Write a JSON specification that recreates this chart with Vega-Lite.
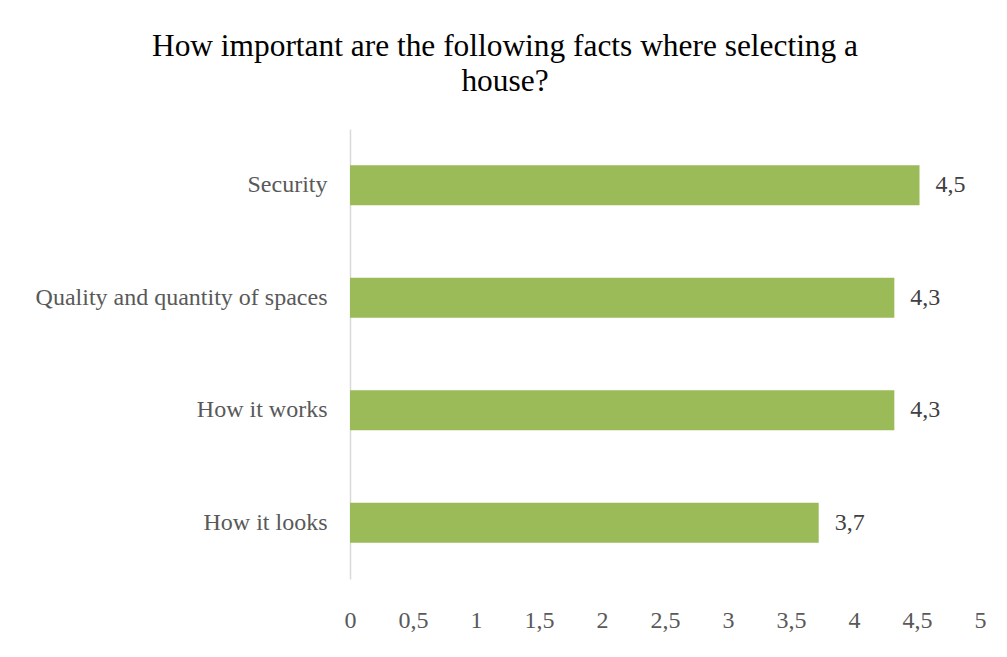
{
  "$schema": "https://vega.github.io/schema/vega-lite/v6.json",
  "width": 630,
  "height": 450,
  "autosize": {"type": "none"},
  "padding": {"left": 350, "top": 129, "right": 27, "bottom": 78},
  "background": "white",
  "config": {
    "view": {"stroke": null},
    "locale": {"number": {"decimal": ",", "thousands": ".", "grouping": [3], "currency": ["", " €"]}},
    "font": "Liberation Serif",
    "title": {"font": "Liberation Serif"}
  },
  "title": {
    "text": ["How important are the following facts where selecting a", "house?"],
    "font": "Liberation Serif",
    "fontSize": 31.4,
    "fontWeight": "normal",
    "color": "#000000",
    "lineHeight": 35,
    "anchor": "middle",
    "dx": -160,
    "offset": 32
  },
  "data": {
    "values": [
      {"factor": "Security", "score": 4.52},
      {"factor": "Quality and quantity of spaces", "score": 4.32},
      {"factor": "How it works", "score": 4.32},
      {"factor": "How it looks", "score": 3.72}
    ]
  },
  "encoding": {
    "y": {
      "field": "factor",
      "type": "nominal",
      "sort": ["Security", "Quality and quantity of spaces", "How it works", "How it looks"],
      "scale": {"paddingInner": 0.644, "paddingOuter": 0.322},
      "axis": {
        "title": null,
        "ticks": false,
        "domainColor": "#D9D9D9",
        "domainWidth": 1.5,
        "labelFont": "Liberation Serif",
        "labelFontSize": 24,
        "labelColor": "#595959",
        "labelPadding": 23,
        "labelLimit": 400
      }
    },
    "x": {
      "field": "score",
      "type": "quantitative",
      "scale": {"domain": [0, 5], "nice": false},
      "axis": {
        "title": null,
        "values": [0, 0.5, 1, 1.5, 2, 2.5, 3, 3.5, 4, 4.5, 5],
        "format": "~g",
        "grid": false,
        "domain": false,
        "ticks": false,
        "labelFont": "Liberation Serif",
        "labelFontSize": 24,
        "labelColor": "#595959",
        "labelPadding": 29,
        "labelFlush": false
      }
    }
  },
  "layer": [
    {"mark": {"type": "bar", "color": "#9BBB59"}},
    {
      "mark": {"type": "text", "align": "left", "dx": 16, "font": "Liberation Serif", "fontSize": 24, "color": "#404040"},
      "encoding": {"text": {"field": "score", "type": "quantitative", "format": ".1f"}}
    }
  ]
}
